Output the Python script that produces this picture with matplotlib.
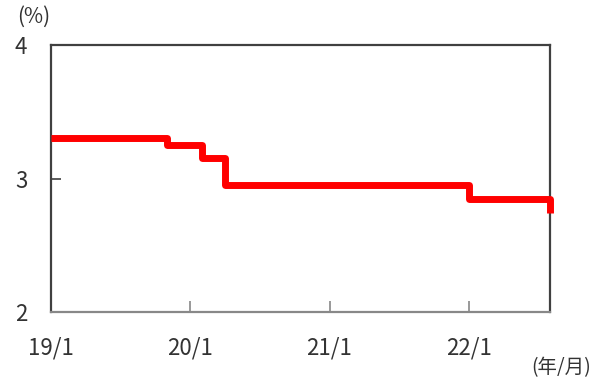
import matplotlib.pyplot as plt

plt.rcParams['font.family'] = ['Noto Sans CJK JP', 'DejaVu Sans']

# monthly values, 2019/1 .. 2022/8
months = ["19/1", "19/2", "19/3", "19/4", "19/5", "19/6", "19/7", "19/8", "19/9", "19/10", "19/11", "19/12",
          "20/1", "20/2", "20/3", "20/4", "20/5", "20/6", "20/7", "20/8", "20/9", "20/10", "20/11", "20/12",
          "21/1", "21/2", "21/3", "21/4", "21/5", "21/6", "21/7", "21/8", "21/9", "21/10", "21/11", "21/12",
          "22/1", "22/2", "22/3", "22/4", "22/5", "22/6", "22/7", "22/8"]
rate = [3.30, 3.30, 3.30, 3.30, 3.30, 3.30, 3.30, 3.30, 3.30, 3.30, 3.25, 3.25,
        3.25, 3.15, 3.15, 2.95, 2.95, 2.95, 2.95, 2.95, 2.95, 2.95, 2.95, 2.95,
        2.95, 2.95, 2.95, 2.95, 2.95, 2.95, 2.95, 2.95, 2.95, 2.95, 2.95, 2.95,
        2.85, 2.85, 2.85, 2.85, 2.85, 2.85, 2.85, 2.74]
tick_labels = ["19/1", "20/1", "21/1", "22/1"]
y_ticks = [2, 3, 4]

x = list(range(len(months)))

fig = plt.figure(figsize=(6, 3.83), dpi=100)
ax = fig.add_axes([0.085, 0.1854, 0.8317, 0.697])

ax.plot(x, rate, color="#ff0000", lw=5, drawstyle="steps-post",
        solid_joinstyle="round", solid_capstyle="butt", clip_on=False, zorder=3)

ax.set_xlim(0, len(months) - 1)
ax.set_ylim(2, 4)

ax.set_xticks([months.index(t) for t in tick_labels])
ax.set_xticklabels(tick_labels)
ax.set_yticks(y_ticks)

ax.tick_params(axis="x", direction="in", length=8, width=1.2, color="#888888",
               pad=18, labelsize=16, labelcolor="#333333")
ax.tick_params(axis="y", direction="in", length=7, width=1.2, color="#404040",
               pad=17, labelsize=16, labelcolor="#333333")

for side in ["left", "top", "right"]:
    ax.spines[side].set_color("#404040")
    ax.spines[side].set_linewidth(1.6)
ax.spines["bottom"].set_color("#888888")
ax.spines["bottom"].set_linewidth(1.6)

fig.text(0.028, 0.955, "(%)", fontsize=15, color="#333333", ha="left", va="center")
fig.text(0.985, 0.04, "(年/月)", fontsize=14, color="#333333", ha="right", va="center")

fig.savefig("out.png", dpi=100)
